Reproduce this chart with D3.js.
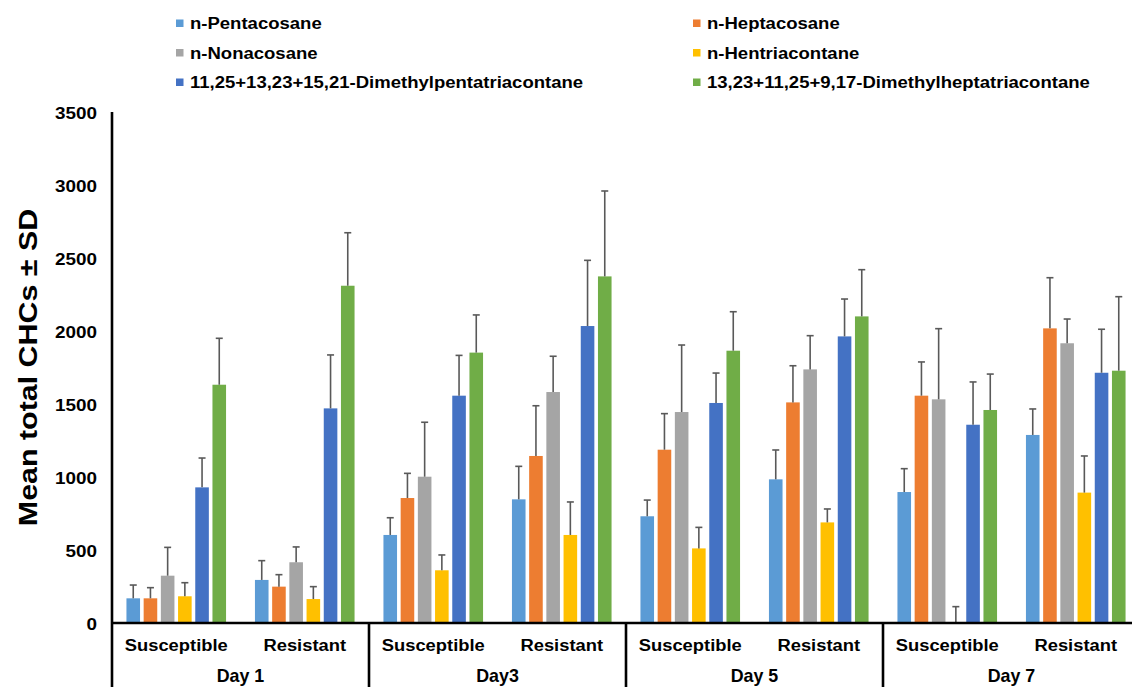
<!DOCTYPE html>
<html>
<head>
<meta charset="utf-8">
<script src="https://cdn.jsdelivr.net/npm/d3@7"></script>
<style>
  html, body { margin: 0; padding: 0; background: #fff; }
  svg { display: block; }
  text { font-family: "Liberation Sans", Arial, sans-serif; font-weight: bold; fill: #000; }
</style>
</head>
<body>
<svg id="chart" width="1132" height="687"></svg>
<script>
// Sampling days and the two colony types inside each day
const days = ["Day 1", "Day3", "Day 5", "Day 7"];
const groups = ["Susceptible", "Resistant"];

// Hydrocarbon series shown in the legend
const seriesNames = [
  "n-Pentacosane",
  "n-Heptacosane",
  "n-Nonacosane",
  "n-Hentriacontane",
  "11,25+13,23+15,21-Dimethylpentatriacontane",
  "13,23+11,25+9,17-Dimethylheptatriacontane"
];
const seriesColors = ["#5B9BD5", "#ED7D31", "#A5A5A5", "#FFC000", "#4472C4", "#70AD47"];

// Means, ordered Day 1 S, Day 1 R, Day3 S, Day3 R, Day 5 S, Day 5 R, Day 7 S, Day 7 R
const pentacosane      = [169, 295, 603, 847, 731, 984, 897, 1288];
const heptacosane      = [169, 249, 856, 1144, 1187, 1511, 1557, 2018];
const nonacosane       = [324, 416, 1002, 1582, 1445, 1737, 1532, 1916];
const hentriacontane   = [183, 164, 361, 603, 511, 689, 0, 893];
const dmPentatriacont  = [929, 1470, 1557, 2034, 1507, 1963, 1358, 1714];
const dmHeptatriacont  = [1632, 2310, 1852, 2374, 1865, 2100, 1459, 1728];

// Standard deviations, same ordering
const pentacosaneSD     = [91, 132, 118, 226, 111, 201, 160, 178];
const heptacosaneSD     = [73, 82, 169, 344, 247, 251, 231, 347];
const nonacosaneSD      = [194, 105, 373, 245, 459, 231, 484, 166];
const hentriacontaneSD  = [93, 85, 105, 226, 144, 92, 112, 251];
const dmPentatriacontSD = [201, 366, 276, 450, 205, 256, 293, 298];
const dmHeptatriacontSD = [318, 363, 258, 585, 267, 320, 246, 507];

const yTicks = [0, 500, 1000, 1500, 2000, 2500, 3000, 3500];

const means = [pentacosane, heptacosane, nonacosane, hentriacontane, dmPentatriacont, dmHeptatriacont];
const sds = [pentacosaneSD, heptacosaneSD, nonacosaneSD, hentriacontaneSD, dmPentatriacontSD, dmHeptatriacontSD];

// One key per day/colony cell
const cells = [];
days.forEach(d => groups.forEach(g => cells.push(d + "|" + g)));

const svg = d3.select("#chart");

const plot = { left: 112, right: 1140, top: 112, bottom: 623 };

const x0 = d3.scaleBand().domain(cells).range([plot.left, plot.right]).padding(0);
const x1 = d3.scaleBand().domain(d3.range(seriesNames.length))
  .range([0, x0.bandwidth()]).paddingInner(0.21).paddingOuter(0.84);
const xDay = d3.scaleBand().domain(days).range([plot.left, plot.right]).padding(0);
const y = d3.scaleLinear().domain([0, 3500]).range([plot.bottom, plot.top]);

// Stretched bold labels
function label(sel, x, yPos, txt, size, sx, anchor, rot) {
  return sel.append("text")
    .attr("transform", `translate(${x},${yPos})` + (rot ? ` rotate(${rot})` : "") + ` scale(${sx},1)`)
    .attr("text-anchor", anchor)
    .style("font-size", size + "px")
    .text(txt);
}

// Bars
const barData = [];
means.forEach((arr, si) => arr.forEach((v, ci) => barData.push({ si, ci, v, sd: sds[si][ci] })));

svg.append("g").selectAll("rect").data(barData).join("rect")
  .attr("x", d => x0(cells[d.ci]) + x1(d.si))
  .attr("width", x1.bandwidth())
  .attr("y", d => y(d.v))
  .attr("height", d => y(0) - y(d.v))
  .attr("fill", d => seriesColors[d.si]);

// Upper error bars
const err = svg.append("g").attr("stroke", "#595959").attr("stroke-width", 1.6).attr("fill", "none");
barData.forEach(d => {
  const cx = x0(cells[d.ci]) + x1(d.si) + x1.bandwidth() / 2;
  err.append("line").attr("x1", cx).attr("x2", cx).attr("y1", y(d.v)).attr("y2", y(d.v + d.sd));
  err.append("line").attr("x1", cx - 3.5).attr("x2", cx + 3.5).attr("y1", y(d.v + d.sd)).attr("y2", y(d.v + d.sd));
});

// Y axis
const yAxis = svg.append("g")
  .attr("transform", `translate(${plot.left},0)`)
  .call(d3.axisLeft(y).tickValues(yTicks).tickSize(0).tickPadding(15).tickFormat(d3.format("d")));
yAxis.select(".domain").remove();
yAxis.selectAll("text")
  .attr("dy", "0.36em")
  .style("font-size", "17px")
  .style("font-family", "'Liberation Sans', Arial, sans-serif")
  .style("font-weight", "bold")
  .attr("fill", "#000")
  .attr("transform", function() {
    const xx = +d3.select(this).attr("x");
    return `translate(${xx},0) scale(1.11,1) translate(${-xx},0)`;
  });

// Axis lines and category dividers
const axisLines = svg.append("g").attr("stroke", "#000").attr("stroke-width", 2.6);
axisLines.append("line").attr("x1", plot.left).attr("x2", plot.left).attr("y1", plot.top).attr("y2", 687);
axisLines.append("line").attr("x1", plot.left).attr("x2", plot.right).attr("y1", y(0)).attr("y2", y(0));
days.slice(1).forEach(d => {
  axisLines.append("line").attr("x1", xDay(d)).attr("x2", xDay(d)).attr("y1", y(0)).attr("y2", 687);
});

// Category labels
const cat = svg.append("g");
cells.forEach(c => {
  const g = c.split("|")[1];
  label(cat, x0(c) + x0.bandwidth() / 2, 651, g, 17, 1.08, "middle");
});
days.forEach(d => label(cat, xDay(d) + xDay.bandwidth() / 2, 682, d, 17.5, 1.02, "middle"));

// Y axis title
label(svg, 37, (plot.top + plot.bottom) / 2, "Mean total CHCs \u00b1 SD", 26, 1.17, "middle", -90);

// Legend: two columns, three rows
const legend = svg.append("g");
const legendCols = [176, 693];
const legendRows = [29, 58.5, 88];
seriesNames.forEach((name, i) => {
  const lx = legendCols[i % 2];
  const ly = legendRows[Math.floor(i / 2)];
  legend.append("rect").attr("x", lx).attr("y", ly - 9.5).attr("width", 7.5).attr("height", 7.5).attr("fill", seriesColors[i]);
  label(legend, lx + 14, ly, name, 17, 1.09, "start");
});
</script>
</body>
</html>
